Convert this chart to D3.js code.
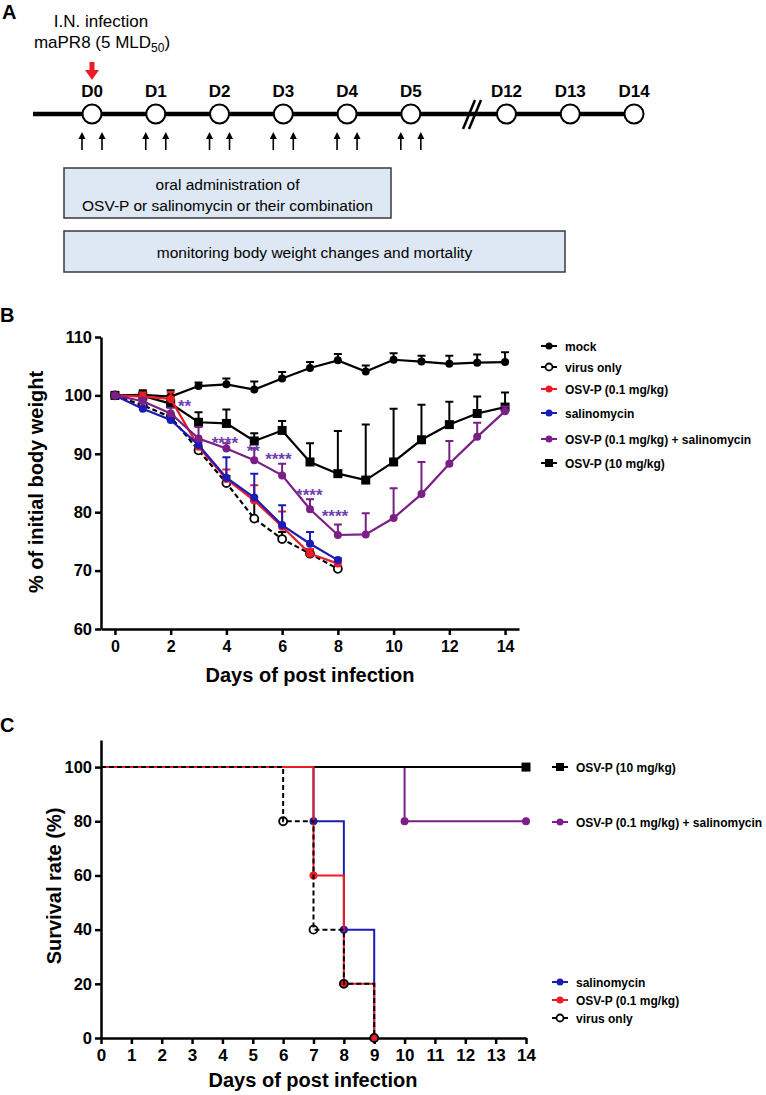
<!DOCTYPE html>
<html>
<head>
<meta charset="utf-8">
<script src="https://cdn.jsdelivr.net/npm/d3@7"></script>
<style>
body { margin: 0; background: #fff; }
text { font-family: "Liberation Sans", Arial, sans-serif; }
</style>
</head>
<body>
<div id="chart"></div>
<script>
// ---- panel A: schedule ----
var dayLabels = ["D0", "D1", "D2", "D3", "D4", "D5", "D12", "D13", "D14"];
var daySlots = [0, 1, 2, 3, 4, 5, 6.5, 7.5, 8.5];
var dosedSlots = [0, 1, 2, 3, 4, 5];
var boxOneLines = ["oral administration of", "OSV-P or salinomycin or their combination"];
var boxTwoLines = ["monitoring body weight changes and mortality"];

// ---- panel B: body weight (% of initial), mean and upper SD ----
var days = [0, 1, 2, 3, 4, 5, 6, 7, 8, 9, 10, 11, 12, 13, 14];
var mockMean = [100, 100.1, 99.8, 101.6, 101.9, 101.0, 102.9, 104.7, 106.0, 104.1, 106.1, 105.8, 105.4, 105.6, 105.7];
var mockSD   = [0, 0.8, 1.1, 0.6, 1.0, 1.4, 1.1, 1.0, 1.1, 1.0, 1.1, 1.0, 1.4, 1.4, 1.7];
var virusMean = [100, 98.3, 96.3, 90.6, 85.0, 78.9, 75.4, 72.9, 70.3];
var virusSD   = [0, 0.5, 0.6, 0.6, 1.2, 3.0, 1.2, 0.8, 0.4];
var osvLowMean = [100, 99.8, 99.4, 91.2, 85.7, 82.0, 77.5, 72.9, 71.2];
var osvLowSD   = [0, 0.7, 1.2, 0.8, 1.6, 2.6, 2.6, 0.8, 0.5];
var salMean = [100, 97.7, 95.8, 91.5, 85.9, 82.5, 77.8, 74.6, 71.8];
var salSD   = [0, 0.4, 0.5, 0.8, 3.5, 4.1, 3.4, 2.0, 0.3];
var comboMean = [100, 99.0, 96.9, 92.6, 90.9, 88.9, 86.3, 80.5, 76.1, 76.2, 79.0, 83.1, 88.3, 92.9, 97.3];
var comboSD   = [0, 0.6, 1.0, 2.0, 0.9, 2.0, 2.0, 1.7, 1.8, 3.6, 5.1, 5.5, 3.9, 2.4, 0.8];
var osvHighMean = [100, 99.9, 98.6, 95.4, 95.2, 92.2, 94.0, 88.6, 86.6, 85.5, 88.6, 92.4, 95.0, 96.9, 98.0];
var osvHighSD   = [0, 0.8, 1.5, 1.7, 2.4, 1.3, 1.6, 3.2, 7.3, 9.5, 9.1, 6.0, 3.9, 2.9, 2.5];

// significance marks (combination vs virus only)
var starLabels = ["**", "****", "**", "****", "****", "****"];
var starDays   = [2.26, 3.47, 4.73, 5.39, 6.50, 7.42];
var starValues = [97.2, 90.8, 89.4, 88.1, 82.0, 78.3];

var weightTicksX = [0, 2, 4, 6, 8, 10, 12, 14];
var weightTicksY = [60, 70, 80, 90, 100, 110];

// ---- panel C: survival (%) ----
var survOsvHighDays = [0, 14];        var survOsvHigh = [100, 100];
var survComboDays   = [0, 10, 14];    var survCombo   = [100, 80, 80];
var survSalDays     = [0, 7, 8, 9];   var survSal     = [100, 80, 40, 0];
var survOsvLowDays  = [0, 7, 8, 9];   var survOsvLow  = [100, 60, 20, 0];
var survVirusDays   = [0, 6, 7, 8, 9]; var survVirus  = [100, 80, 40, 20, 0];
var survTicksX = d3.range(0, 15);
var survTicksY = [0, 20, 40, 60, 80, 100];

var RED = "#ec1c24", BLUE = "#1c1cb4", PURPLE = "#7a1f86", STAR = "#7040b0";

var svg = d3.select("#chart").append("svg")
    .attr("width", 766)
    .attr("height", 1095);

function panelLetter(t, x, y) {
    svg.append("text").attr("x", x).attr("y", y)
        .attr("font-size", 20).attr("font-weight", "bold").text(t);
}

// ================= Panel A =================
panelLetter("A", 2, 19);

var tx = d3.scaleLinear().domain([0, 8.5]).range([92, 634]);

svg.append("text").attr("x", 101).attr("y", 27).attr("text-anchor", "middle")
    .attr("font-size", 17).text("I.N.  infection");
var mald = svg.append("text").attr("x", 102).attr("y", 48).attr("text-anchor", "middle")
    .attr("font-size", 17);
mald.append("tspan").text("maPR8 (5 MLD");
mald.append("tspan").attr("font-size", 12).attr("dy", 4).text("50");
mald.append("tspan").attr("dy", -4).text(")");

// red infection arrow
var ax = tx(0);
svg.append("rect").attr("x", ax - 2.5).attr("y", 62).attr("width", 5).attr("height", 9).attr("fill", RED);
svg.append("path").attr("d", "M" + (ax - 7) + ",70L" + (ax + 7) + ",70L" + ax + ",80Z").attr("fill", RED);

// timeline
svg.append("line").attr("x1", 33).attr("x2", tx(8.5)).attr("y1", 114).attr("y2", 114)
    .attr("stroke", "#000").attr("stroke-width", 4.5);
// axis break
[0, 6].forEach(function(o) {
    svg.append("line").attr("x1", 463 + o).attr("y1", 129).attr("x2", 475 + o).attr("y2", 100)
        .attr("stroke", "#000").attr("stroke-width", 2.5);
});

svg.selectAll(".tlc").data(daySlots).enter().append("circle")
    .attr("cx", function(d) { return tx(d); })
    .attr("cy", 114).attr("r", 9.5)
    .attr("fill", "#fff").attr("stroke", "#000").attr("stroke-width", 2);

svg.selectAll(".tll").data(dayLabels).enter().append("text")
    .attr("x", function(d, i) { return tx(daySlots[i]); })
    .attr("y", 97).attr("text-anchor", "middle")
    .attr("font-size", 17).attr("font-weight", "bold")
    .text(function(d) { return d; });

// dosing arrows (twice a day)
var doses = [];
dosedSlots.forEach(function(s) { doses.push(tx(s) - 10, tx(s) + 10); });
var da = svg.selectAll(".dose").data(doses).enter().append("g");
da.append("line").attr("x1", function(d) { return d; }).attr("x2", function(d) { return d; })
    .attr("y1", 150).attr("y2", 137).attr("stroke", "#000").attr("stroke-width", 1.6);
da.append("path").attr("d", function(d) { return "M" + (d - 3.5) + ",139L" + (d + 3.5) + ",139L" + d + ",132Z"; })
    .attr("fill", "#000");

// boxes
function box(x, y, w, h, lines, y0, lh) {
    svg.append("rect").attr("x", x).attr("y", y).attr("width", w).attr("height", h)
        .attr("fill", "#dde8f4").attr("stroke", "#3a3a3a").attr("stroke-width", 1.5);
    svg.selectAll(null).data(lines).enter().append("text")
        .attr("x", x + w / 2).attr("y", function(d, i) { return y0 + i * lh; })
        .attr("text-anchor", "middle").attr("font-size", 15.5)
        .text(function(d) { return d; });
}
box(64, 168, 327, 50, boxOneLines, 190, 21);
box(64, 231, 501, 41, boxTwoLines, 258, 21);

// ================= Panel B =================
panelLetter("B", 0, 322);

var x = d3.scaleLinear().domain([-0.5, 14.5]).range([101, 519]);
var y = d3.scaleLinear().domain([60, 110]).range([629, 337]);

function styleAxis(g, fs) {
    g.select(".domain").attr("stroke-width", 2.5);
    g.selectAll(".tick line").attr("stroke-width", 2.5);
    g.selectAll(".tick text").attr("font-size", fs).attr("font-weight", "bold")
        .attr("font-family", "Liberation Sans, Arial, sans-serif").attr("fill", "#000");
}

svg.append("g").attr("transform", "translate(0,629)")
    .call(d3.axisBottom(x).tickValues(weightTicksX).tickSize(6).tickSizeOuter(0).tickPadding(6))
    .call(styleAxis, 16);
svg.append("g").attr("transform", "translate(101,0)")
    .call(d3.axisLeft(y).tickValues(weightTicksY).tickSize(6).tickSizeOuter(0).tickPadding(3))
    .call(styleAxis, 16.5);

svg.append("text").attr("transform", "translate(43,482) rotate(-90)")
    .attr("text-anchor", "middle").attr("font-size", 20).attr("font-weight", "bold")
    .text("% of initial body weight");
svg.append("text").attr("x", 310).attr("y", 682).attr("text-anchor", "middle")
    .attr("font-size", 20).attr("font-weight", "bold").text("Days of post infection");

var weightSeries = [
    {name: "mock", mean: mockMean, sd: mockSD, color: "#000", shape: "circle", fill: "#000"},
    {name: "OSV-P (10 mg/kg)", mean: osvHighMean, sd: osvHighSD, color: "#000", shape: "square", fill: "#000"},
    {name: "virus only", mean: virusMean, sd: virusSD, color: "#000", shape: "circle", fill: "#fff", dash: "5,3"},
    {name: "OSV-P (0.1 mg/kg)", mean: osvLowMean, sd: osvLowSD, color: RED, shape: "circle", fill: RED},
    {name: "salinomycin", mean: salMean, sd: salSD, color: BLUE, shape: "circle", fill: BLUE},
    {name: "OSV-P (0.1 mg/kg) + salinomycin", mean: comboMean, sd: comboSD, color: PURPLE, shape: "circle", fill: PURPLE}
];

function drawMarker(g, s, cx, cy, r) {
    if (s.shape === "square") {
        g.append("rect").attr("x", cx - r - 0.5).attr("y", cy - r - 0.5)
            .attr("width", 2 * r + 1).attr("height", 2 * r + 1).attr("fill", s.fill);
    } else {
        g.append("circle").attr("cx", cx).attr("cy", cy).attr("r", r)
            .attr("fill", s.fill).attr("stroke", s.color).attr("stroke-width", s.fill === s.color ? 0 : 1.8);
    }
}

var wline = d3.line()
    .x(function(d) { return x(d.day); })
    .y(function(d) { return y(d.v); });

weightSeries.forEach(function(s) {
    var pts = s.mean.map(function(v, i) { return {day: days[i], v: v, sd: s.sd[i]}; });
    var g = svg.append("g");
    g.selectAll(".eb").data(pts.filter(function(p) { return p.sd > 0; })).enter().append("path")
        .attr("d", function(p) {
            var xx = x(p.day), y0 = y(p.v), y1 = y(p.v + p.sd);
            return "M" + xx + "," + y0 + "V" + y1 + "M" + (xx - 4) + "," + y1 + "H" + (xx + 4);
        })
        .attr("stroke", s.color).attr("stroke-width", 2).attr("fill", "none");
    g.append("path").datum(pts).attr("d", wline)
        .attr("fill", "none").attr("stroke", s.color).attr("stroke-width", 2.2)
        .attr("stroke-dasharray", s.dash || null);
    pts.forEach(function(p) { drawMarker(g, s, x(p.day), y(p.v), 4); });
});

svg.selectAll(".stars").data(starLabels).enter().append("text")
    .attr("x", function(d, i) { return x(starDays[i]); })
    .attr("y", function(d, i) { return y(starValues[i]); })
    .attr("font-size", 17).attr("font-weight", "bold").attr("fill", STAR)
    .text(function(d) { return d; });

// legend B
var legendB = ["mock", "virus only", "OSV-P (0.1 mg/kg)", "salinomycin", "OSV-P (0.1 mg/kg) + salinomycin", "OSV-P (10 mg/kg)"];
var legendBY = [346, 367, 389, 413, 439, 463];
legendB.forEach(function(name, i) {
    var s = weightSeries.filter(function(d) { return d.name === name; })[0];
    var g = svg.append("g");
    g.append("line").attr("x1", 541).attr("x2", 557).attr("y1", legendBY[i]).attr("y2", legendBY[i])
        .attr("stroke", s.color).attr("stroke-width", 2);
    drawMarker(g, s, 549, legendBY[i], 3.5);
    g.append("text").attr("x", 565).attr("y", legendBY[i] + 4.5)
        .attr("font-size", 12).attr("font-weight", "bold").text(name);
});

// ================= Panel C =================
panelLetter("C", 0, 732);

var xs = d3.scaleLinear().domain([0, 14]).range([101, 526]);
var ys = d3.scaleLinear().domain([0, 110]).range([1038, 740]);

svg.append("g").attr("transform", "translate(0,1038)")
    .call(d3.axisBottom(xs).tickValues(survTicksX).tickSize(6).tickSizeOuter(0).tickPadding(5))
    .call(styleAxis, 17);
svg.append("g").attr("transform", "translate(101,0)")
    .call(d3.axisLeft(ys).tickValues(survTicksY).tickSize(6).tickSizeOuter(0).tickPadding(3))
    .call(styleAxis, 16.5);

svg.append("text").attr("transform", "translate(61,886) rotate(-90)")
    .attr("text-anchor", "middle").attr("font-size", 20).attr("font-weight", "bold")
    .text("Survival rate (%)");
svg.append("text").attr("x", 313).attr("y", 1087).attr("text-anchor", "middle")
    .attr("font-size", 20).attr("font-weight", "bold").text("Days of post infection");

var survSeries = [
    {name: "OSV-P (0.1 mg/kg) + salinomycin", d: survComboDays, v: survCombo, color: PURPLE, shape: "circle", fill: PURPLE},
    {name: "salinomycin", d: survSalDays, v: survSal, color: BLUE, shape: "circle", fill: BLUE},
    {name: "OSV-P (10 mg/kg)", d: survOsvHighDays, v: survOsvHigh, color: "#000", shape: "square", fill: "#000"},
    {name: "OSV-P (0.1 mg/kg)", d: survOsvLowDays, v: survOsvLow, color: RED, shape: "circle", fill: RED},
    {name: "virus only", d: survVirusDays, v: survVirus, color: "#000", shape: "circle", fill: "none", dash: "5,3"}
];

var sline = d3.line().curve(d3.curveStepAfter)
    .x(function(p) { return xs(p.day); })
    .y(function(p) { return ys(p.v); });

survSeries.forEach(function(s) {
    var pts = s.d.map(function(dd, i) { return {day: dd, v: s.v[i]}; });
    var g = svg.append("g");
    g.append("path").datum(pts).attr("d", sline)
        .attr("fill", "none").attr("stroke", s.color).attr("stroke-width", 2)
        .attr("stroke-dasharray", s.dash || null);
    pts.slice(1).forEach(function(p) { drawMarker(g, s, xs(p.day), ys(p.v), 4); });
});

// legend C
var legendC = ["OSV-P (10 mg/kg)", "OSV-P (0.1 mg/kg) + salinomycin", "salinomycin", "OSV-P (0.1 mg/kg)", "virus only"];
var legendCY = [767, 822, 982, 1000, 1018];
legendC.forEach(function(name, i) {
    var s = survSeries.filter(function(d) { return d.name === name; })[0];
    var g = svg.append("g");
    g.append("line").attr("x1", 552).attr("x2", 568).attr("y1", legendCY[i]).attr("y2", legendCY[i])
        .attr("stroke", s.color).attr("stroke-width", 2);
    drawMarker(g, s.fill === "none" ? {shape: "circle", fill: "#fff", color: "#000"} : s, 560, legendCY[i], 3.5);
    g.append("text").attr("x", 576).attr("y", legendCY[i] + 4.5)
        .attr("font-size", 12).attr("font-weight", "bold").text(name);
});
</script>
</body>
</html>
